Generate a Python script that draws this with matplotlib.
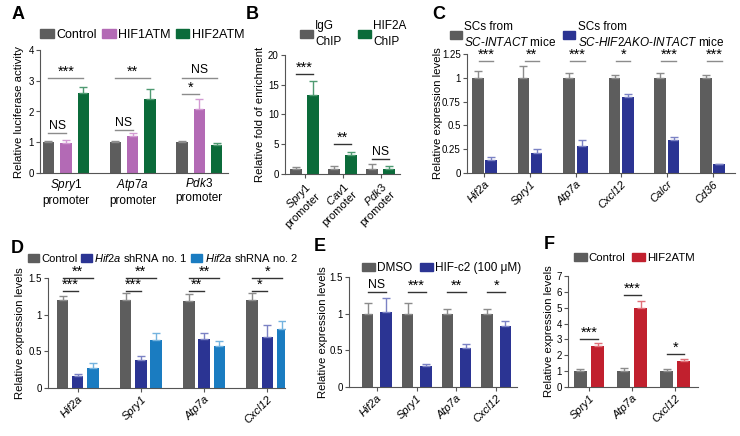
import numpy as np
import matplotlib.pyplot as plt
from matplotlib.patches import Patch

plt.rcParams['font.family'] = ['Liberation Sans', 'DejaVu Sans']
plt.rcParams['mathtext.fontset'] = 'custom'
plt.rcParams['mathtext.rm'] = 'Liberation Sans'
plt.rcParams['mathtext.it'] = 'Liberation Sans:italic'
plt.rcParams['mathtext.bf'] = 'Liberation Sans:bold'

W, H = 740, 436

# ---------------------------- data ----------------------------
# A: luciferase
a_genes = ['Spry1', 'Atp7a', 'Pdk3']
a_ctrl = [1.0, 1.0, 1.0]
a_ctrl_err = [0.04, 0.04, 0.04]
a_hif1 = [0.97, 1.21, 2.07]
a_hif1_err = [0.09, 0.08, 0.33]
a_hif2 = [2.6, 2.41, 0.9]
a_hif2_err = [0.21, 0.32, 0.07]
a_sig_low = ['NS', 'NS', '*']
a_sig_low_y = [1.3, 1.4, 2.56]
a_sig_high = ['***', '**', 'NS']
a_sig_high_y = [3.1, 3.1, 3.1]

# B: ChIP
b_genes = ['Spry1', 'Cav1', 'Pdk3']
b_igg = [0.8, 0.8, 0.8]
b_igg_err = [0.32, 0.5, 0.85]
b_hif2a = [13.3, 3.2, 0.85]
b_hif2a_err = [2.4, 0.5, 0.45]
b_sig = ['***', '**', 'NS']
b_sig_y = [16.8, 5.05, 2.5]

# C: SCs
c_genes = ['Hif2a', 'Spry1', 'Atp7a', 'Cxcl12', 'Calcr', 'Cd36']
c_intact = [1.0, 1.0, 1.0, 1.0, 1.0, 1.0]
c_intact_err = [0.075, 0.12, 0.05, 0.026, 0.05, 0.033]
c_ko = [0.14, 0.21, 0.28, 0.8, 0.343, 0.09]
c_ko_err = [0.028, 0.045, 0.07, 0.033, 0.035, 0.008]
c_sig = ['***', '**', '***', '*', '***', '***']
c_sig_y = 1.175

# D: shRNA
d_genes = ['Hif2a', 'Spry1', 'Atp7a', 'Cxcl12']
d_ctrl = [1.195, 1.195, 1.19, 1.195]
d_ctrl_err = [0.065, 0.1, 0.096, 0.1]
d_sh1 = [0.16, 0.38, 0.67, 0.695]
d_sh1_err = [0.035, 0.05, 0.08, 0.16]
d_sh2 = [0.27, 0.66, 0.57, 0.81]
d_sh2_err = [0.075, 0.09, 0.07, 0.105]
d_sig_low = ['***', '***', '**', '*']
d_sig_high = ['**', '**', '**', '*']

# E: HIF-c2
e_genes = ['Hif2a', 'Spry1', 'Atp7a', 'Cxcl12']
e_dmso = [1.0, 1.0, 1.0, 1.0]
e_dmso_err = [0.14, 0.14, 0.07, 0.06]
e_hifc2 = [1.017, 0.28, 0.53, 0.83]
e_hifc2_err = [0.19, 0.036, 0.053, 0.07]
e_sig = ['NS', '***', '**', '*']
e_sig_y = 1.29

# F: overexpression
f_genes = ['Spry1', 'Atp7a', 'Cxcl12']
f_ctrl = [0.98, 0.98, 0.98]
f_ctrl_err = [0.15, 0.21, 0.15]
f_hif2 = [2.6, 5.0, 1.67]
f_hif2_err = [0.17, 0.43, 0.12]
f_sig = ['***', '***', '*']
f_sig_y = [3.03, 5.79, 2.07]

# colours
gray, gray_e = '#5d5d5d', '#8c8c8c'
pink, pink_e = '#b36ab5', '#d39ad3'
green, green_e = '#0b6b3a', '#4f9a72'
navy, navy_e = '#2b3493', '#7b82c4'
lblue, lblue_e = '#1a7cc1', '#74b3df'
red, red_e = '#c1202e', '#e0717a'

fig = plt.figure(figsize=(W / 100, H / 100), dpi=100)


def make_ax(l, r, t, b):
    ax = fig.add_axes([l / W, 1 - b / H, (r - l) / W, (b - t) / H])
    for s in ['top', 'right']:
        ax.spines[s].set_visible(False)
    for s in ['left', 'bottom']:
        ax.spines[s].set_color('#555555')
        ax.spines[s].set_linewidth(0.8)
    ax.tick_params(colors='#555555', labelcolor='black', labelsize=7,
                   length=3, width=0.8, pad=1.5)
    return ax


def bars(ax, x, vals, errs, color, ecolor, width):
    ax.bar(x, vals, width, color=color, zorder=2)
    ax.errorbar(x, vals, yerr=[np.zeros(len(vals)), errs], fmt='none',
                ecolor=ecolor, elinewidth=1, capsize=3, capthick=1, zorder=3)


def sig(ax, x1, x2, y, txt, color='#333333'):
    ax.plot([x1, x2], [y, y], color=color, lw=1, clip_on=False, zorder=4)
    # asterisks are drawn bigger than NS, like in the paper
    if txt == 'NS':
        size, off = 8.8, 1.0
    else:
        size, off = 10.5, -0.5
    ax.annotate(txt, ((x1 + x2) / 2, y), xytext=(0, off),
                textcoords='offset points', ha='center', va='bottom',
                fontsize=size, annotation_clip=False)


def legend(ax, labels, colors, x, y, cs=0.4, fs=8.5, hl=1.1, ls=None):
    handles = [Patch(color=c) for c in colors]
    leg = ax.legend(handles, labels, loc='center left',
                    bbox_to_anchor=(x / W, 1 - y / H), bbox_transform=fig.transFigure,
                    ncol=len(labels), frameon=False, fontsize=fs,
                    handlelength=hl, handleheight=0.65, handletextpad=0.2,
                    columnspacing=cs, borderpad=0, borderaxespad=0)
    if ls:
        for t in leg.get_texts():
            t.set_linespacing(ls)
    return leg


def ylab(ax, text, px, l, r):
    ax.set_ylabel(text, fontsize=8.2)
    ax.yaxis.set_label_coords((px + 5 - l) / (r - l), 0.5)


def letter(x, y, s):
    fig.text(x / W, 1 - y / H, s, fontsize=13, fontweight='bold', va='top')


# ---------------------------- A ----------------------------
ax = make_ax(40, 228, 50, 173)
x = np.arange(len(a_genes))
bars(ax, x - 0.26, a_ctrl, a_ctrl_err, gray, gray_e, 0.17)
bars(ax, x, a_hif1, a_hif1_err, pink, pink_e, 0.17)
bars(ax, x + 0.26, a_hif2, a_hif2_err, green, green_e, 0.17)
for i in range(len(a_genes)):
    sig(ax, i - 0.26, i, a_sig_low_y[i], a_sig_low[i], '#8c8c8c')
    sig(ax, i - 0.26, i + 0.26, a_sig_high_y[i], a_sig_high[i], '#8c8c8c')
ax.set_xlim(-0.387, 2.43)
ax.set_ylim(0, 4)
ax.set_yticks([0, 1, 2, 3, 4])
ax.set_xticks(x)
ax.set_xticklabels([r'$\mathit{%s}$' % g + '\npromoter' for g in a_genes],
                   fontsize=8.5, linespacing=1.15)
ax.tick_params(axis='x', length=0, pad=3)
ylab(ax, 'Relative luciferase activity', 19, 40, 228)
legend(ax, ['Control', 'HIF1ATM', 'HIF2ATM'], [gray, pink, green], 40, 35,
       fs=9, hl=1.1)
letter(12, 6, 'A')

# ---------------------------- B ----------------------------
ax = make_ax(285, 400, 55, 174)
x = np.arange(len(b_genes))
bars(ax, x - 0.22, b_igg, b_igg_err, gray, gray_e, 0.32)
bars(ax, x + 0.22, b_hif2a, b_hif2a_err, green, green_e, 0.32)
for i in range(len(b_genes)):
    sig(ax, i - 0.22, i + 0.22, b_sig_y[i], b_sig[i])
ax.set_xlim(-0.52, 2.51)
ax.set_ylim(0, 20)
ax.set_yticks([0, 5, 10, 15, 20])
ax.set_xticks(x)
ax.set_xticklabels([r'$\mathit{%s}$' % g + '\npromoter' for g in b_genes],
                   rotation=45, ha='right', rotation_mode='anchor',
                   fontsize=8, linespacing=1.1)
ylab(ax, 'Relative fold of enrichment', 260, 285, 400)
legend(ax, ['IgG\nChIP', 'HIF2A\nChIP'], [gray, green], 300, 34, cs=1.4, hl=1.1,
       ls=1.35)
letter(246, 6, 'B')

# ---------------------------- C ----------------------------
ax = make_ax(467, 735, 54, 173)
x = np.arange(len(c_genes))
bars(ax, x - 0.146, c_intact, c_intact_err, gray, gray_e, 0.255)
bars(ax, x + 0.146, c_ko, c_ko_err, navy, navy_e, 0.255)
for i in range(len(c_genes)):
    sig(ax, i - 0.12, i + 0.2, c_sig_y, c_sig[i], '#8c8c8c')
ax.set_xlim(-0.38, 5.49)
ax.set_ylim(0, 1.25)
ax.set_yticks([0, 0.25, 0.5, 0.75, 1, 1.25])
ax.set_yticklabels(['0', '0.25', '0.5', '0.75', '1', '1.25'])
ax.set_xticks(x)
ax.set_xticklabels(c_genes, rotation=45, ha='right', rotation_mode='anchor',
                   fontsize=8, fontstyle='italic')
ylab(ax, 'Relative expression levels', 438, 467, 735)
legend(ax, ['SCs from\n' + r'$\mathit{SC}$-$\mathit{INTACT}$ mice',
            'SCs from\n' + r'$\mathit{SC}$-$\mathit{HIF2AKO}$-$\mathit{INTACT}$ mice'],
       [gray, navy], 450, 35, cs=0.6, hl=1.0, ls=1.3)
letter(432, 6, 'C')

# ---------------------------- D ----------------------------
ax = make_ax(48, 285, 278, 388)
x = np.arange(len(d_genes))
bars(ax, x - 0.24, d_ctrl, d_ctrl_err, gray, gray_e, 0.18)
bars(ax, x, d_sh1, d_sh1_err, navy, navy_e, 0.18)
bars(ax, x + 0.24, d_sh2, d_sh2_err, lblue, lblue_e, 0.18)
for i in range(len(d_genes)):
    sig(ax, i - 0.24, i, 1.327, d_sig_low[i])
    sig(ax, i - 0.24, i + 0.24, 1.5, d_sig_high[i])
ax.set_xlim(-0.47, 3.28)
ax.set_ylim(0, 1.5)
ax.set_yticks([0, 0.5, 1, 1.5])
ax.set_yticklabels(['0', '0.5', '1', '1.5'])
ax.set_xticks(x)
ax.set_xticklabels(d_genes, rotation=45, ha='right', rotation_mode='anchor',
                   fontsize=8, fontstyle='italic')
ylab(ax, 'Relative expression levels', 20, 48, 285)
legend(ax, ['Control', r'$\mathit{Hif2a}$ shRNA no. 1', r'$\mathit{Hif2a}$ shRNA no. 2'],
       [gray, navy, lblue], 28, 258, cs=0.3, fs=8, hl=1.0)
letter(11, 240, 'D')

# ---------------------------- E ----------------------------
ax = make_ax(349, 517, 277, 387)
x = np.arange(len(e_genes))
bars(ax, x - 0.23, e_dmso, e_dmso_err, gray, gray_e, 0.29)
bars(ax, x + 0.23, e_hifc2, e_hifc2_err, navy, navy_e, 0.29)
for i in range(len(e_genes)):
    sig(ax, i - 0.23, i + 0.23, e_sig_y, e_sig[i])
ax.set_xlim(-0.7, 3.52)
ax.set_ylim(0, 1.5)
ax.set_yticks([0, 0.5, 1, 1.5])
ax.set_yticklabels(['0', '0.5', '1', '1.5'])
ax.set_xticks(x)
ax.set_xticklabels(e_genes, rotation=45, ha='right', rotation_mode='anchor',
                   fontsize=8, fontstyle='italic')
ylab(ax, 'Relative expression levels', 323, 349, 517)
legend(ax, ['DMSO', 'HIF-c2 (100 μM)'], [gray, navy], 362, 268, cs=0.6)
letter(314, 238, 'E')

# ---------------------------- F ----------------------------
ax = make_ax(568, 698, 276, 387)
x = np.arange(len(f_genes))
bars(ax, x - 0.2, f_ctrl, f_ctrl_err, gray, gray_e, 0.3)
bars(ax, x + 0.2, f_hif2, f_hif2_err, red, red_e, 0.3)
for i in range(len(f_genes)):
    sig(ax, i - 0.2, i + 0.2, f_sig_y[i], f_sig[i])
ax.set_xlim(-0.49, 2.53)
ax.set_ylim(0, 7)
ax.set_yticks(range(8))
ax.set_xticks(x)
ax.set_xticklabels(f_genes, rotation=45, ha='right', rotation_mode='anchor',
                   fontsize=8, fontstyle='italic')
ylab(ax, 'Relative expression levels', 549, 568, 698)
legend(ax, ['Control', 'HIF2ATM'], [gray, red], 574, 258, cs=0.6, fs=8.2)
letter(544, 236, 'F')

fig.savefig('out.png', dpi=100)
